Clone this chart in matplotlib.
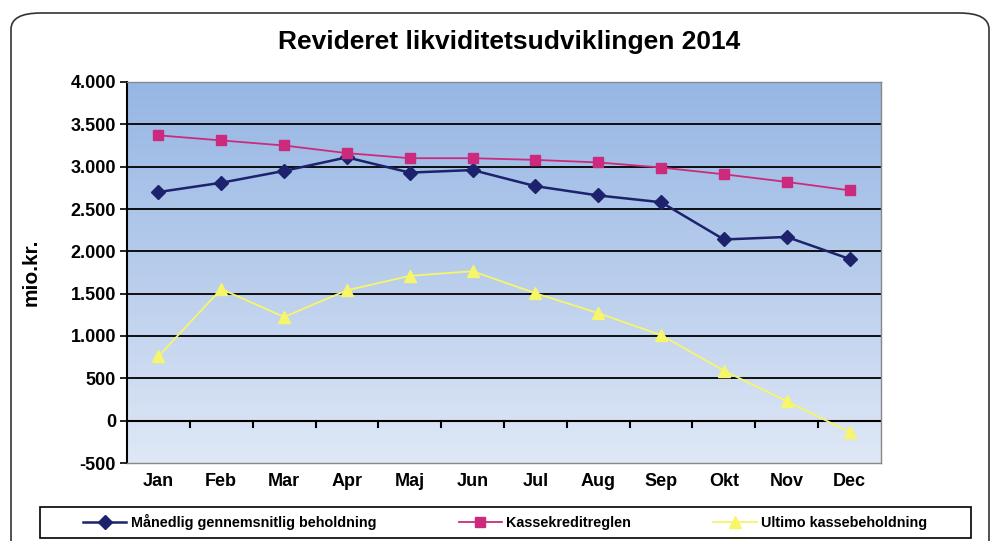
import numpy as np
import matplotlib.pyplot as plt
from matplotlib.patches import FancyBboxPatch, Rectangle
from matplotlib.colors import LinearSegmentedColormap

months = ["Jan", "Feb", "Mar", "Apr", "Maj", "Jun", "Jul", "Aug", "Sep", "Okt", "Nov", "Dec"]
beholdning = [2700, 2810, 2950, 3110, 2930, 2960, 2770, 2660, 2580, 2140, 2170, 1910]
kassekredit = [3370, 3310, 3250, 3160, 3100, 3100, 3080, 3050, 2990, 2910, 2820, 2720]
ultimo = [760, 1555, 1225, 1540, 1710, 1765, 1505, 1270, 1010, 590, 230, -135]
yticks = [-500, 0, 500, 1000, 1500, 2000, 2500, 3000, 3500, 4000]
ylabels = ["-500", "0", "500", "1.000", "1.500", "2.000", "2.500", "3.000", "3.500", "4.000"]

plt.rcParams['font.family'] = ['Liberation Sans', 'DejaVu Sans']
plt.rcParams['font.weight'] = 'bold'

fig = plt.figure(figsize=(9.97, 5.41), dpi=100)
ax = fig.add_axes([127 / 997, 1 - 463 / 541, 754 / 997, 381 / 541])

# outer rounded frame
frame = FancyBboxPatch((11 / 997, -0.05), 978 / 997, 1 - 13 / 541 + 0.05,
                       boxstyle="round,pad=0,rounding_size=0.03", transform=fig.transFigure,
                       fill=False, edgecolor="#333333", linewidth=1.2)
fig.patches.append(frame)

# gradient background of plot area
x = np.arange(len(months))
cmap = LinearSegmentedColormap.from_list("bg", ["#dfe8f6", "#b8cdec", "#96b6e4"])
grad = np.linspace(0, 1, 256).reshape(-1, 1)
ax.imshow(grad, aspect="auto", cmap=cmap, origin="lower",
          extent=(-0.5, len(months) - 0.5, -500, 4000), zorder=0)

for v in yticks[1:-1]:
    ax.axhline(v, color="black", linewidth=1.3, zorder=1)

ax.plot(x, beholdning, color="#1c226b", marker="D", markersize=7, linewidth=1.8,
        label="Månedlig gennemsnitlig beholdning", zorder=3)
ax.plot(x, kassekredit, color="#cc2b7d", marker="s", markersize=7, linewidth=1.3,
        label="Kassekreditreglen", zorder=3)
ax.plot(x, ultimo, color="#f7f56a", marker="^", markersize=8, linewidth=1.3,
        label="Ultimo kassebeholdning", zorder=3)

ax.set_xlim(-0.5, len(months) - 0.5)
ax.set_ylim(-500, 4000)
ax.set_yticks(yticks)
ax.set_yticklabels(ylabels, fontsize=13, fontweight="bold")
ax.set_xticks(x)
ax.set_xticklabels(months, fontsize=13, fontweight="bold")
ax.tick_params(axis="x", length=0, pad=7)
ax.tick_params(axis="y", length=5, width=1.2, direction="out", pad=3)

# category axis crossing at zero with tick marks at boundaries
ax.axhline(0, color="black", linewidth=1.5, zorder=2)
for b in np.arange(0.5, len(months) - 0.5, 1.0):
    ax.plot([b, b], [0, -70], color="black", linewidth=1.5, zorder=2, clip_on=False)

ax.spines["left"].set_linewidth(1.5)
ax.spines["left"].set_color("black")
for s in ["top", "right", "bottom"]:
    ax.spines[s].set_color("#888888")
    ax.spines[s].set_linewidth(1.0)

ax.set_ylabel("mio.kr.", fontsize=15, fontweight="bold")
ax.yaxis.set_label_coords(-0.115, 0.5)

fig.text(509 / 997, 1 - 42 / 541, "Revideret likviditetsudviklingen 2014",
         ha="center", va="center", fontsize=19, fontweight="bold")

# legend box
fig.patches.append(Rectangle((40 / 997, 1 - 538 / 541), 931 / 997, 31 / 541,
                             transform=fig.transFigure, fill=False,
                             edgecolor="black", linewidth=1.2))
leg = fig.legend(loc="center left", bbox_to_anchor=(83 / 997, 1 - 522 / 541),
                 ncol=3, frameon=False, fontsize=10.4, handlelength=3.0,
                 handletextpad=0.3, columnspacing=5.7, borderaxespad=0, borderpad=0)
for t in leg.get_texts():
    t.set_fontweight("bold")

fig.savefig("out.png", dpi=100)
